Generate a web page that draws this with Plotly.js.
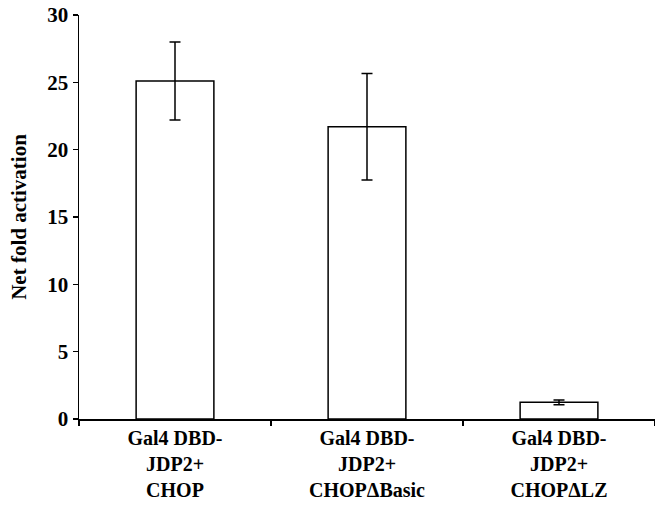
<!DOCTYPE html>
<html>
<head>
<meta charset="utf-8">
<script src="https://cdn.plot.ly/plotly-3.0.1.min.js"></script>
<style>html,body{margin:0;padding:0;background:#fff;}#chart{width:655px;height:508px;}</style>
</head>
<body>
<div id="chart"></div>
<script>
const categories = ["Gal4 DBD-<br>JDP2+<br>CHOP", "Gal4 DBD-<br>JDP2+<br>CHOPΔBasic", "Gal4 DBD-<br>JDP2+<br>CHOPΔLZ"];
const values = [25.1, 21.7, 1.24];
const errors = [2.9, 3.95, 0.18];
const yTicks = [0, 5, 10, 15, 20, 25, 30];

const fam = "Liberation Serif";
const font = {family: fam, size: 20, color: "#000"};

const trace = {
  type: "bar",
  x: categories,
  y: values,
  marker: {color: "#ffffff", line: {color: "#000", width: 1.5}},
  error_y: {type: "data", array: errors, visible: true, color: "#000", thickness: 1.5, width: 5.5},
  width: 0.405,
  hoverinfo: "none"
};

const layout = {
  width: 655, height: 508,
  margin: {l: 79, r: 0, t: 15, b: 89},
  paper_bgcolor: "#fff", plot_bgcolor: "#fff",
  font: font,
  showlegend: false,
  xaxis: {
    type: "category",
    tickson: "boundaries",
    ticks: "outside", ticklen: 5, tickwidth: 1.5, tickcolor: "#000",
    showline: true, linecolor: "#000", linewidth: 1.5,
    showgrid: false, zeroline: false,
    tickfont: {family: fam, size: 20, color: "#000", weight: "bold"},
    automargin: false
  },
  yaxis: {
    range: [0, 30],
    tickvals: yTicks,
    ticks: "outside", ticklen: 5, tickwidth: 1.5, tickcolor: "#000",
    showline: true, linecolor: "#000", linewidth: 1.5,
    showgrid: false, zeroline: false,
    tickfont: {family: fam, size: 21, color: "#000", weight: "bold"},
    title: {text: "Net fold activation", font: {family: fam, size: 21, color: "#000", weight: "bold"}, standoff: 15},
    automargin: false
  }
};

Plotly.newPlot("chart", [trace], layout, {displayModeBar: false, staticPlot: true});
</script>
</body>
</html>
